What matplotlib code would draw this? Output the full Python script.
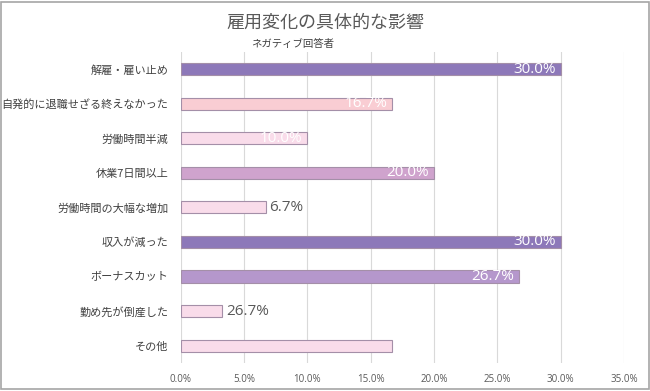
import matplotlib.pyplot as plt
import matplotlib.patches as patches

plt.rcParams['font.family'] = ['Noto Sans CJK JP', 'DejaVu Sans']

categories = ['解雇・雇い止め', '自発的に退職せざる終えなかった', '労働時間半減', '休業7日間以上',
              '労働時間の大幅な増加', '収入が減った', 'ボーナスカット', '勤め先が倒産した', 'その他']
values = [30.0, 16.7, 10.0, 20.0, 6.7, 30.0, 26.7, 3.3, 16.7]
labels = ['30.0%', '16.7%', '10.0%', '20.0%', '6.7%', '30.0%', '26.7%', '26.7%', '']
inside = [True, True, True, True, False, True, True, False, False]
colors = ['#8d78b9', '#f9cdd3', '#f9dcea', '#cfa3cd', '#f9dcea', '#8d78b9', '#b597cc', '#f9dcea', '#f9dcea']
xticks = [0, 5, 10, 15, 20, 25, 30, 35]

fig = plt.figure(figsize=(6.5, 3.91), dpi=100)
fig.patches.append(patches.Rectangle((0.002, 0.004), 0.996, 0.992, transform=fig.transFigure,
                                     fill=False, edgecolor='#a6a6a6', linewidth=1.2))
ax = fig.add_axes([0.278, 0.072, 0.682, 0.795])

y = list(range(len(categories)))
ax.barh(y, values, height=0.35, color=colors, edgecolor='#a48fa8', linewidth=0.8, zorder=3)

num_font = ['Open Sans', 'DejaVu Sans']
for i, (v, lab) in enumerate(zip(values, labels)):
    if not lab:
        continue
    if inside[i]:
        ax.text(v - 0.4, i, lab, ha='right', va='center', color='white', fontsize=11,
                family=num_font, zorder=4)
    else:
        ax.text(v + 0.3, i, lab, ha='left', va='center', color='#595959', fontsize=11,
                family=num_font, zorder=4)

ax.set_xlim(0, 35)
ax.set_ylim(8.5, -0.5)
ax.set_xticks(xticks)
ax.set_xticklabels([f'{t:.1f}%' for t in xticks], fontsize=7, color='#595959', family=num_font)
ax.set_yticks(y)
ax.set_yticklabels(categories, fontsize=8, color='#404040')
ax.tick_params(axis='both', length=0)
ax.tick_params(axis='x', pad=8)
ax.tick_params(axis='y', pad=9)
ax.grid(axis='x', color='#d9d9d9', linewidth=0.8, zorder=0)
for s in ax.spines.values():
    s.set_visible(False)

fig.text(0.5, 0.942, '雇用変化の具体的な影響', ha='center', va='center', fontsize=13, color='#595959')
fig.text(0.45, 0.887, 'ネガティブ回答者', ha='center', va='center', fontsize=7.5, color='#404040')

fig.savefig('out.png', dpi=100)
